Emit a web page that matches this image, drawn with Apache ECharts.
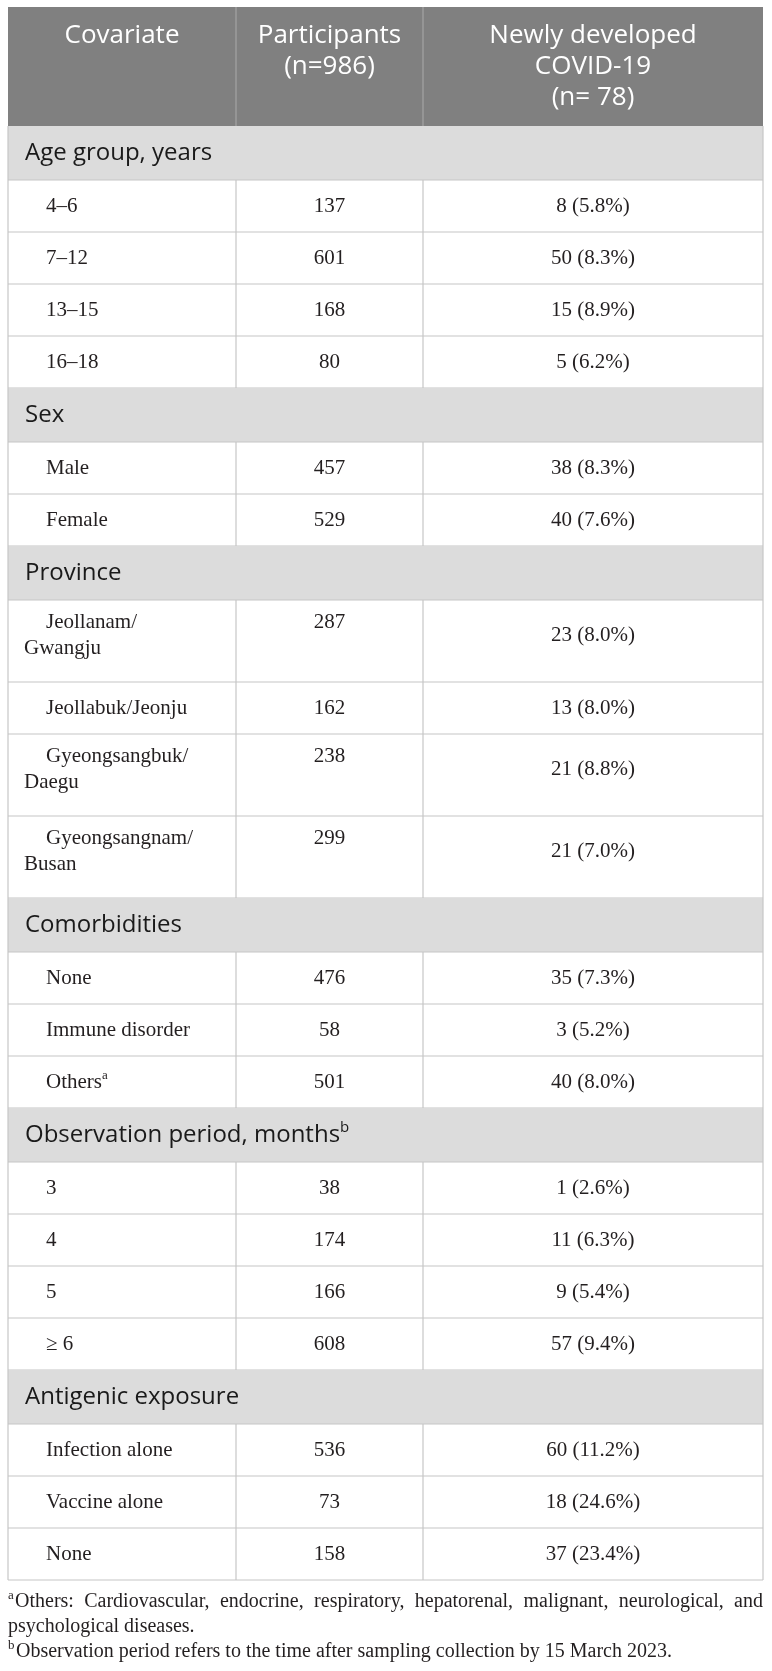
<!doctype html>
<html lang="en">
<head>
    <meta charset="UTF-8">
    <title>Covariates and newly developed COVID-19</title>
    <script src="https://cdn.jsdelivr.net/npm/echarts@6.0.0/dist/echarts.min.js"></script>
    <style>
        body { margin: 0; background: #fff; }
    </style>
</head>
<body>

<div id="chart" style="width: 772px;height: 1671px;"></div>
<script type="text/javascript">
    // table content
    const headers = ['Covariate', 'Participants\n(n=986)', 'Newly developed\nCOVID-19\n(n= 78)'];
    const sections = ['Age group, years', 'Sex', 'Province', 'Comorbidities',
        'Observation period, months^b', 'Antigenic exposure'];
    const covariates = ['4–6', '7–12', '13–15', '16–18', 'Male', 'Female',
        'Jeollanam/\nGwangju', 'Jeollabuk/Jeonju', 'Gyeongsangbuk/\nDaegu', 'Gyeongsangnam/\nBusan',
        'None', 'Immune disorder', 'Others^a', '3', '4', '5', '≥ 6',
        'Infection alone', 'Vaccine alone', 'None'];
    const sectionOf = [0, 0, 0, 0, 1, 1, 2, 2, 2, 2, 3, 3, 3, 4, 4, 4, 4, 5, 5, 5];
    const participants = [137, 601, 168, 80, 457, 529, 287, 162, 238, 299, 476, 58, 501, 38, 174, 166, 608, 536, 73, 158];
    const cases = [8, 50, 15, 5, 38, 40, 23, 13, 21, 21, 35, 3, 40, 1, 11, 9, 57, 60, 18, 37];
    const casePct = [5.8, 8.3, 8.9, 6.2, 8.3, 7.6, 8.0, 8.0, 8.8, 7.0, 7.3, 5.2, 8.0, 2.6, 6.3, 5.4, 9.4, 11.2, 24.6, 23.4];
    const footnotes = [
        ['a', 'Others: Cardiovascular, endocrine, respiratory, hepatorenal, malignant, neurological, and', 'psychological diseases.'],
        ['b', 'Observation period refers to the time after sampling collection by 15 March 2023.']
    ];

    // layout
    const W = 755;
    const cols = [0, 228, 415, 755];
    const H_HEAD = 119, H_SEC = 54, H_ROW = 52, H_ROW2 = 82;
    const SERIF = '"Liberation Serif", "Times New Roman", serif';
    const SANS = '"Open Sans", "Noto Sans", sans-serif';
    const INK = '#231f20';
    const LINE = '#c6c6c6';

    let rows = [];
    let yy = 0;
    rows.push({kind: 'header', y0: 0, h: H_HEAD});
    yy += H_HEAD;
    sections.forEach(function (s, si) {
        rows.push({kind: 'section', label: s, y0: yy, h: H_SEC});
        yy += H_SEC;
        covariates.forEach(function (c, i) {
            if (sectionOf[i] !== si) return;
            let h = c.indexOf('\n') >= 0 ? H_ROW2 : H_ROW;
            rows.push({kind: 'item', i: i, y0: yy, h: h});
            yy += h;
        });
    });
    const TOTAL = yy;

    function sup(s) {
        return s.replace(/\^(\w)/, '{sup|$1}');
    }

    function txt(x, y, text, font, fill, align, extra) {
        let style = {
            text: text, font: font, fill: fill,
            align: align, verticalAlign: 'middle',
            textAlign: align, textVerticalAlign: 'middle'
        };
        if (extra) Object.assign(style, extra);
        return {type: 'text', x: x, y: y, style: style};
    }

    function line(x1, y1, x2, y2, color) {
        return {type: 'line', shape: {x1: x1, y1: y1, x2: x2, y2: y2},
            style: {stroke: color, lineWidth: 1.2}};
    }

    function renderRow(params, api) {
        const r = rows[params.dataIndex];
        const X = function (v) { return api.coord([v, 0])[0]; };
        const Y = function (v) { return api.coord([0, v])[1]; };
        const top = Y(r.y0), bot = Y(r.y0 + r.h), left = X(0), right = X(W);
        let kids = [];
        if (r.kind === 'header') {
            kids.push({type: 'rect', shape: {x: left, y: top, width: right - left, height: bot - top},
                style: {fill: '#808080'}});
            kids.push(line(X(cols[1]), top, X(cols[1]), bot, '#a3a3a3'));
            kids.push(line(X(cols[2]), top, X(cols[2]), bot, '#a3a3a3'));
            headers.forEach(function (hd, c) {
                const cx = (X(cols[c]) + X(cols[c + 1])) / 2;
                hd.split('\n').forEach(function (t, k) {
                    kids.push(txt(cx, top + 29 + k * 31, t, '26px ' + SANS, '#ffffff', 'center'));
                });
            });
        } else if (r.kind === 'section') {
            kids.push({type: 'rect', shape: {x: left, y: top, width: right - left, height: bot - top},
                style: {fill: '#dcdcdc'}});
            kids.push(line(left, bot, right, bot, LINE));
            kids.push(line(left, top, left, bot, LINE));
            kids.push(line(right, top, right, bot, LINE));
            kids.push(txt(X(17), (top + bot) / 2, sup(r.label), '24px ' + SANS, '#1a1a1a', 'left',
                {rich: {sup: {fontSize: 15, fontFamily: SANS, fill: '#1a1a1a', padding: [0, 0, 14, 0]}}}));
        } else {
            const i = r.i;
            const parts = covariates[i].split('\n');
            const mid = (top + bot) / 2;
            const font = '21px ' + SERIF;
            cols.forEach(function (c) {
                kids.push(line(X(c), top, X(c), bot, LINE));
            });
            kids.push(line(left, bot, right, bot, LINE));
            const richSup = {rich: {sup: {fontSize: 13, fontFamily: SERIF, fill: INK, padding: [0, 0, 12, 0]}}};
            if (parts.length === 1) {
                kids.push(txt(X(38), mid, sup(parts[0]), font, INK, 'left', richSup));
            } else {
                kids.push(txt(X(38), top + 22, parts[0], font, INK, 'left'));
                kids.push(txt(X(16), top + 48, parts[1], font, INK, 'left'));
            }
            const c2 = (X(cols[1]) + X(cols[2])) / 2;
            const c3 = (X(cols[2]) + X(cols[3])) / 2;
            kids.push(txt(c2, parts.length === 1 ? mid : top + 22, String(participants[i]), font, INK, 'center'));
            kids.push(txt(c3, parts.length === 1 ? mid : top + 35,
                cases[i] + ' (' + casePct[i].toFixed(1) + '%)', font, INK, 'center'));
        }
        return {type: 'group', children: kids};
    }

    // footnotes, first line justified
    const ctx = document.createElement('canvas').getContext('2d');
    ctx.font = '20px ' + SERIF;
    const fnSize = Math.min(20, 20 * 673 / ctx.measureText(footnotes[1][1]).width);
    const fnFont = fnSize.toFixed(1) + 'px ' + SERIF;
    ctx.font = fnFont;
    let notes = [];
    const fnY = [1602, 1627, 1652];
    notes.push(txt(8, fnY[0] - 6, footnotes[0][0], '13px ' + SERIF, INK, 'left'));
    let words = footnotes[0][1].split(' ');
    let wsum = 0;
    words.forEach(function (w) { wsum += ctx.measureText(w).width; });
    let gap = (763 - 15 - wsum) / (words.length - 1);
    let wx = 15;
    words.forEach(function (w) {
        notes.push(txt(wx, fnY[0], w, fnFont, INK, 'left'));
        wx += ctx.measureText(w).width + gap;
    });
    notes.push(txt(8, fnY[1], footnotes[0][2], fnFont, INK, 'left'));
    notes.push(txt(8, fnY[2] - 6, footnotes[1][0], '13px ' + SERIF, INK, 'left'));
    notes.push(txt(16, fnY[2], footnotes[1][1], fnFont, INK, 'left'));

    let chart = echarts.init(document.getElementById('chart'));
    chart.setOption({
        animation: false,
        grid: {left: 8, top: 7, width: W, height: TOTAL},
        xAxis: {type: 'value', min: 0, max: W, show: false},
        yAxis: {type: 'value', min: 0, max: TOTAL, inverse: true, show: false},
        graphic: notes,
        series: [{
            type: 'custom',
            renderItem: renderRow,
            encode: {x: 0, y: 1},
            data: rows.map(function (r, k) { return [0, r.y0, k]; })
        }]
    });
</script>
</body>
</html>
